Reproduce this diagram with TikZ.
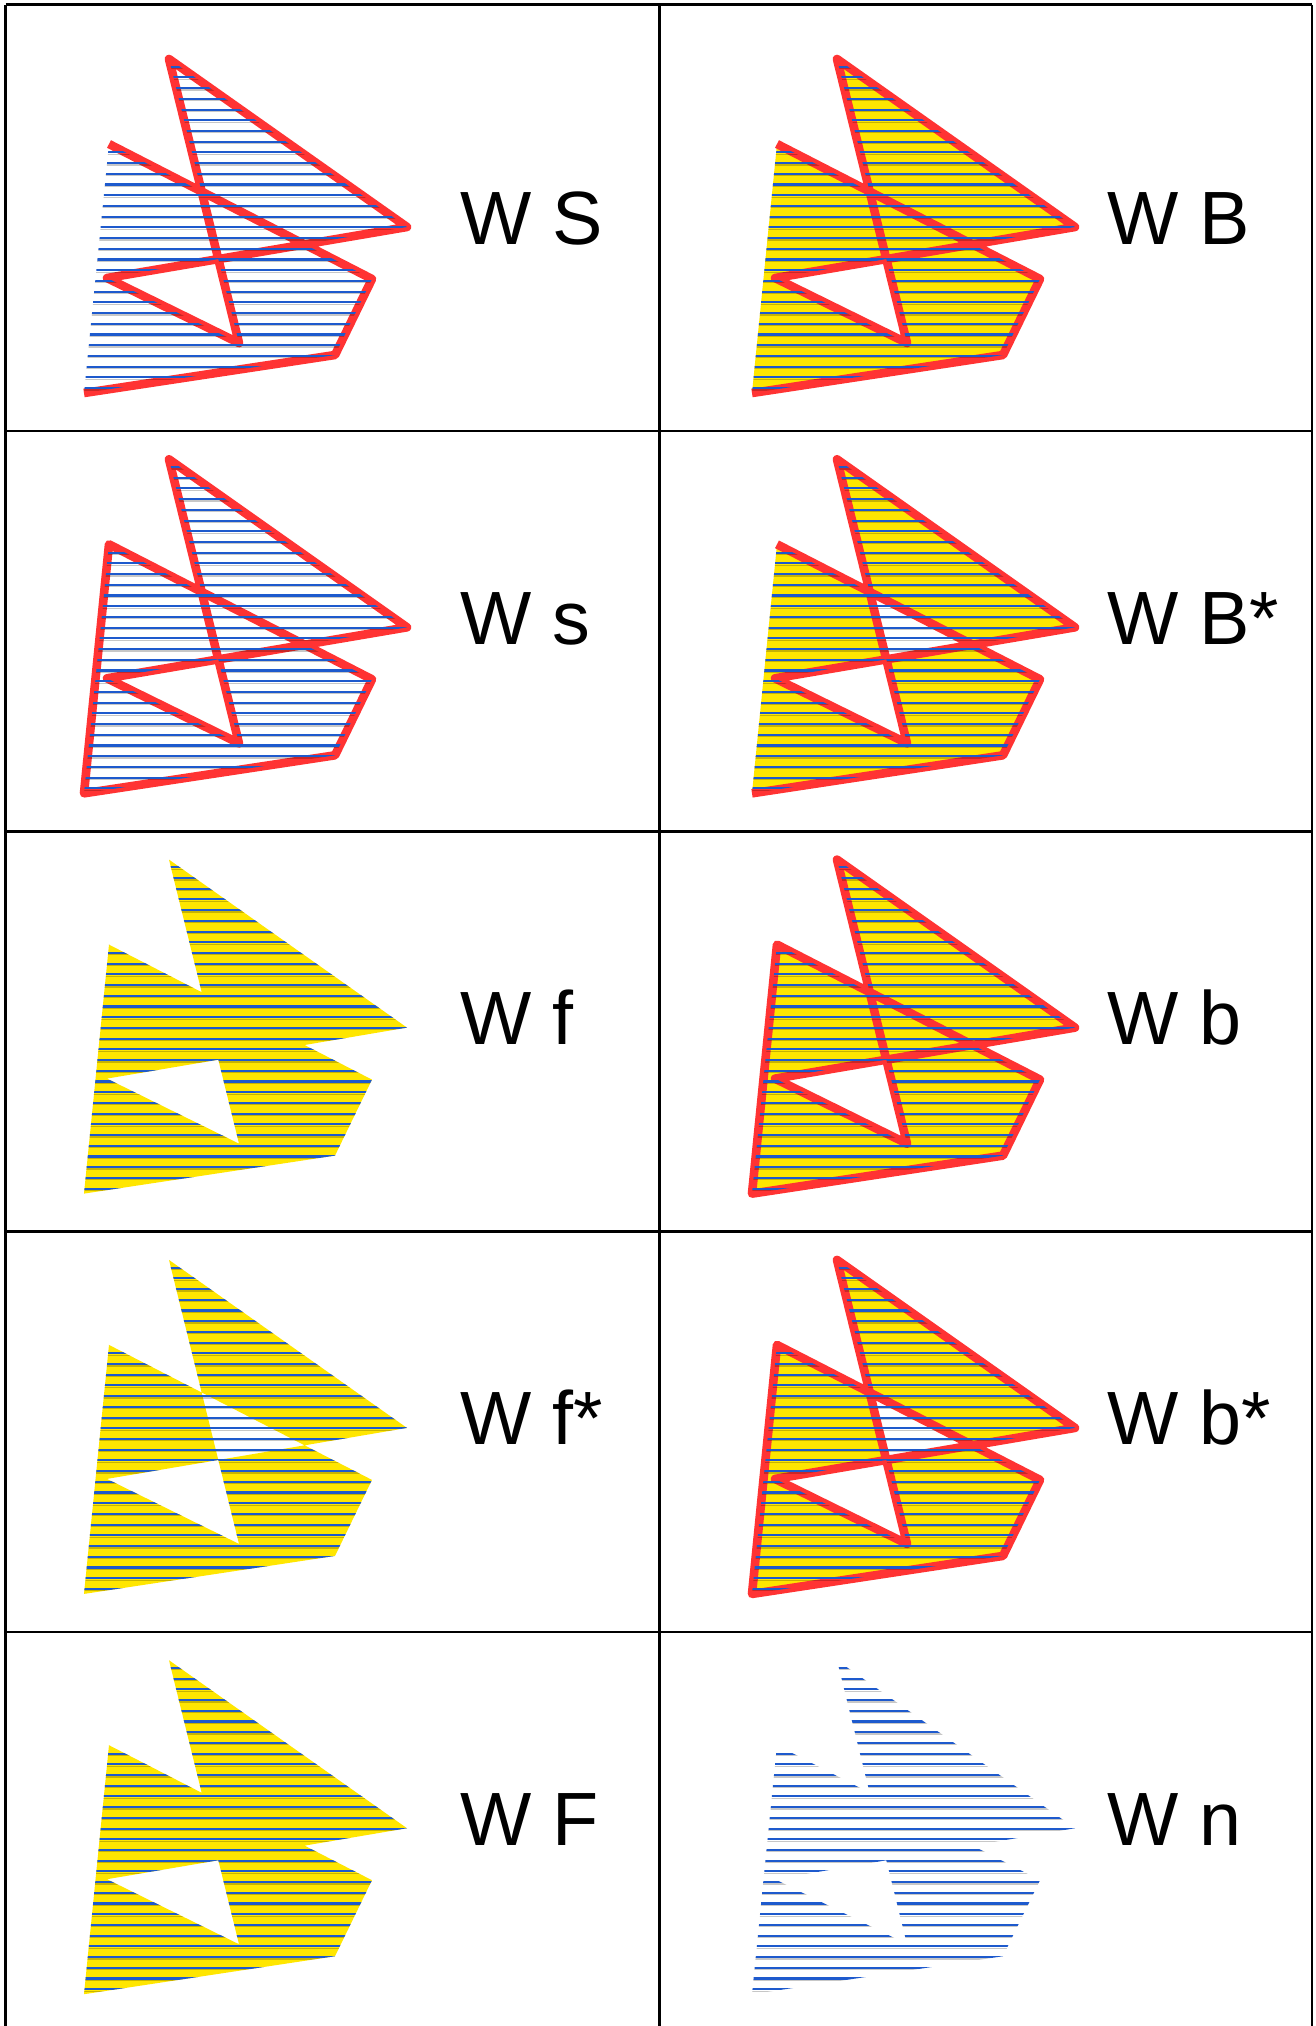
\documentclass[tikz,border=0pt]{standalone}
\usepackage{fontspec}
\setmainfont{Liberation Sans}
\usetikzlibrary{positioning}

\definecolor{sailred}{RGB}{255,51,51}
\definecolor{sailyellow}{RGB}{255,230,0}
\definecolor{hatchblue}{RGB}{30,90,205}

% the two sails: outer sail left open, inner figure closed
\newcommand{\sailopen}{(109,144) -- (372,279) -- (335,355) -- (84,393) (107,278) -- (239,343) -- (169,59) -- (407,227) -- cycle}
\newcommand{\sailclosed}{(109,144) -- (372,279) -- (335,355) -- (84,393) -- cycle (107,278) -- (239,343) -- (169,59) -- (407,227) -- cycle}

% clip (W) shown as horizontal hatching
\newcommand{\sailhatch}{%
  \begin{scope}
    \clip \sailopen;
    \foreach \k in {0,...,31} {
      \draw[hatchshade] (50,{66.7+10.71*\k+1.9}) -- (430,{66.7+10.71*\k+1.9});
      \draw[hatch] (50,{66.7+10.71*\k}) -- (430,{66.7+10.71*\k});
    }
  \end{scope}}

\begin{document}
\begin{tikzpicture}[
    x=0.5pt, y=-0.5pt,
    sailfill/.style={fill=sailyellow},
    sailstroke/.style={draw=sailred, line width=4.3pt, line join=round, line cap=butt},
    hatch/.style={draw=hatchblue, line width=1.05pt},
    hatchshade/.style={draw=black, opacity=0.22, line width=0.6pt},
    grid/.style={draw=black, line width=1.3pt},
    opname/.style={anchor=base west, inner sep=0pt, font=\fontsize{37.75}{45}\selectfont}
]
\useasboundingbox (0,0) rectangle (1316,2026);
\fill[white] (0,0) rectangle (1316,2026);

% Table lines
\draw[grid] (5.5,4.5) -- (1312,4.5);
\draw[grid] (5.5,431) -- (1312,431);
\draw[grid] (5.5,831.2) -- (1312,831.2);
\draw[grid] (5.5,1231.5) -- (1312,1231.5);
\draw[grid] (5.5,1631.8) -- (1312,1631.8);
\draw[grid] (5.5,4.5) -- (5.5,2030);
\draw[grid] (659.5,4.5) -- (659.5,2030);
\draw[grid] (1312,4.5) -- (1312,2030);

% Row 1: W S, W B
\begin{scope}
    \draw[sailstroke] \sailopen;
    \sailhatch
\end{scope}
\node[opname] (opS) at (460,244) {W S};
\begin{scope}[shift={(668,0)}]
    \fill[sailfill] \sailopen;
    \draw[sailstroke] \sailopen;
    \sailhatch
\end{scope}
\node[opname] (opB) at (1107,244) {W B};

% Row 2: W s, W B*
\begin{scope}[shift={(0,400.3)}]
    \draw[sailstroke] \sailclosed;
    \sailhatch
\end{scope}
\node[opname] (ops) at (460,644.3) {W s};
\begin{scope}[shift={(668,400.3)}]
    \fill[sailfill, even odd rule] \sailopen;
    \draw[sailstroke] \sailopen;
    \sailhatch
\end{scope}
\node[opname] (opBstar) at (1107,644.3) {W B*};

% Row 3: W f, W b
\begin{scope}[shift={(0,800.6)}]
    \fill[sailfill] \sailopen;
    \sailhatch
\end{scope}
\node[opname] (opf) at (460,1044.6) {W f};
\begin{scope}[shift={(668,800.6)}]
    \fill[sailfill] \sailclosed;
    \draw[sailstroke] \sailclosed;
    \sailhatch
\end{scope}
\node[opname] (opb) at (1107,1044.6) {W b};

% Row 4: W f*, W b*
\begin{scope}[shift={(0,1200.9)}]
    \fill[sailfill, even odd rule] \sailopen;
    \sailhatch
\end{scope}
\node[opname] (opfstar) at (460,1444.9) {W f*};
\begin{scope}[shift={(668,1200.9)}]
    \fill[sailfill, even odd rule] \sailclosed;
    \draw[sailstroke] \sailclosed;
    \sailhatch
\end{scope}
\node[opname] (opbstar) at (1107,1444.9) {W b*};

% Row 5: W F, W n
\begin{scope}[shift={(0,1601.2)}]
    \fill[sailfill] \sailopen;
    \sailhatch
\end{scope}
\node[opname] (opF) at (460,1845.2) {W F};
\begin{scope}[shift={(668,1601.2)}]
    \sailhatch
\end{scope}
\node[opname] (opn) at (1107,1845.2) {W n};

\end{tikzpicture}
\end{document}
